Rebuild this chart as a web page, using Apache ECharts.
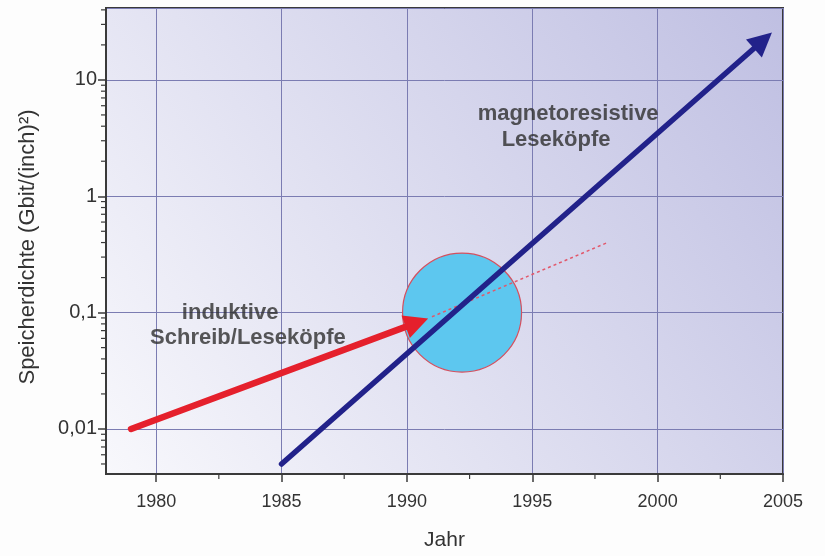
<!DOCTYPE html>
<html>
<head>
<meta charset="utf-8">
<script src="https://cdn.jsdelivr.net/npm/echarts@6/dist/echarts.min.js"></script>
<style>
  html, body { margin: 0; padding: 0; background: #fdfdfd; }
  #chart { width: 825px; height: 556px; }
</style>
</head>
<body>
<div id="chart"></div>
<script>
// Speicherdichte von Festplatten, induktive vs. magnetoresistive Köpfe
var yearMin = 1978;
var yearMax = 2005;
var densityMin = 0.0041;
var densityMax = 41.5;

// [Jahr, Gbit/(inch)^2]
var inductiveArrow = [[1979, 0.01], [1990.4, 0.082]];
var inductiveTrend = [[1991, 0.092], [1998, 0.4]];
var mrArrow = [[1985, 0.005], [2004.2, 21.8]];
var transitionCircle = [[1992.2, 0.1]];

// Beschriftungen im Diagramm
var inductiveLabels = [
  { name: "induktive", value: [1982.95, 0.1] },
  { name: "Schreib/Leseköpfe", value: [1983.66, 0.06] },
];
var mrLabels = [
  { name: "magnetoresistive", value: [1996.43, 5.1] },
  { name: "Leseköpfe", value: [1995.95, 3.05] },
];

// Nebenstriche: x halbe Intervalle, y log 2..9 je Dekade
var xMinorYears = [1982.5, 1987.5, 1992.5, 1997.5, 2002.5];
var minorMantissas = [2, 3, 4, 5, 6, 7, 8, 9];
var decades = [0.001, 0.01, 0.1, 1, 10];

var yMinorTicks = [];
decades.forEach(function (d) {
  minorMantissas.forEach(function (m) {
    var v = +(m * d).toPrecision(3);
    if (v > densityMin && v < densityMax) yMinorTicks.push([yearMin, v, 0]);
  });
});
var xMinorTicks = xMinorYears.map(function (y) {
  return [y, densityMin, 1];
});

var chart = echarts.init(document.getElementById("chart"));

var textFont = "'Liberation Sans', Arial, sans-serif";

chart.setOption({
  animation: false,
  backgroundColor: "#fdfdfd",
  grid: {
    left: 106,
    right: 42,
    top: 8,
    bottom: 74,
    show: true,
    borderColor: "#3a3a3a",
    borderWidth: 2,
    backgroundColor: new echarts.graphic.LinearGradient(0, 1, 1, 0, [
      { offset: 0, color: "#f8f8fc" },
      { offset: 1, color: "#bfbfe2" },
    ]),
  },
  xAxis: {
    type: "value",
    min: yearMin,
    max: yearMax,
    name: "Jahr",
    nameLocation: "middle",
    nameGap: 56,
    nameTextStyle: { color: "#333", fontSize: 21, fontFamily: textFont },
    axisLine: { show: true, lineStyle: { color: "#3a3a3a", width: 2 } },
    axisTick: { show: true, length: 8, lineStyle: { color: "#3a3a3a", width: 1.5 } },
    axisLabel: {
      color: "#333",
      fontSize: 18,
      fontFamily: textFont,
      margin: 19,
      showMinLabel: false,
      showMaxLabel: true,
      formatter: function (value) {
        return String(value);
      },
    },
    splitLine: { show: true, lineStyle: { color: "#7b7cb2", width: 1 } },
  },
  yAxis: {
    type: "log",
    logBase: 10,
    min: densityMin,
    max: densityMax,
    name: "Speicherdichte (Gbit/(inch)²)",
    nameLocation: "middle",
    nameGap: 67,
    nameTextStyle: { color: "#333", fontSize: 22, fontFamily: textFont, padding: [0, 12, 0, 0] },
    axisLine: { show: true, lineStyle: { color: "#3a3a3a", width: 2 } },
    axisTick: { show: true, length: 8, lineStyle: { color: "#3a3a3a", width: 1.5 } },
    axisLabel: {
      color: "#333",
      fontSize: 20,
      fontFamily: textFont,
      margin: 9,
      showMinLabel: false,
      showMaxLabel: false,
      formatter: function (value) {
        return String(+value.toPrecision(6)).replace(".", ",");
      },
    },
    splitLine: { show: true, lineStyle: { color: "#7b7cb2", width: 1 } },
  },
  series: [
    {
      // Übergangsbereich
      type: "scatter",
      z: 1,
      silent: true,
      symbol: "circle",
      symbolSize: 119,
      itemStyle: { color: "#5dc7ef", borderColor: "#d4505f", borderWidth: 1.2, opacity: 1 },
      data: transitionCircle,
    },
    {
      type: "lines",
      coordinateSystem: "cartesian2d",
      z: 2,
      silent: true,
      symbol: ["none", "triangle"],
      symbolSize: [17, 24],
      lineStyle: { color: "#e5202c", width: 6.5, opacity: 1, cap: "round" },
      data: [{ coords: inductiveArrow }],
    },
    {
      type: "line",
      z: 3,
      silent: true,
      symbol: "none",
      lineStyle: { color: "#e2576a", width: 1.5, type: [3, 3] },
      data: inductiveTrend,
    },
    {
      type: "lines",
      coordinateSystem: "cartesian2d",
      z: 4,
      silent: true,
      symbol: ["none", "triangle"],
      symbolSize: [17, 24],
      lineStyle: { color: "#22228a", width: 5.5, opacity: 1, cap: "round" },
      data: [{ coords: mrArrow }],
    },
    {
      type: "scatter",
      z: 5,
      silent: true,
      symbolSize: 1,
      itemStyle: { color: "transparent" },
      label: {
        show: true,
        position: "inside",
        formatter: "{b}",
        color: "#2e2e2e",
        fontSize: 22,
        fontWeight: "bold",
        fontFamily: textFont,
      },
      data: inductiveLabels.concat(mrLabels),
    },
    {
      // Nebenstriche aussen an den Achsen
      type: "custom",
      z: 6,
      silent: true,
      clip: false,
      renderItem: function (params, api) {
        var p = api.coord([api.value(0), api.value(1)]);
        var onX = api.value(2) === 1;
        return {
          type: "line",
          shape: onX
            ? { x1: p[0], y1: p[1], x2: p[0], y2: p[1] + 5 }
            : { x1: p[0] - 5, y1: p[1], x2: p[0], y2: p[1] },
          style: { stroke: "#3a3a3a", lineWidth: 1.2 },
        };
      },
      data: yMinorTicks.concat(xMinorTicks),
    },
  ],
});
</script>
</body>
</html>
